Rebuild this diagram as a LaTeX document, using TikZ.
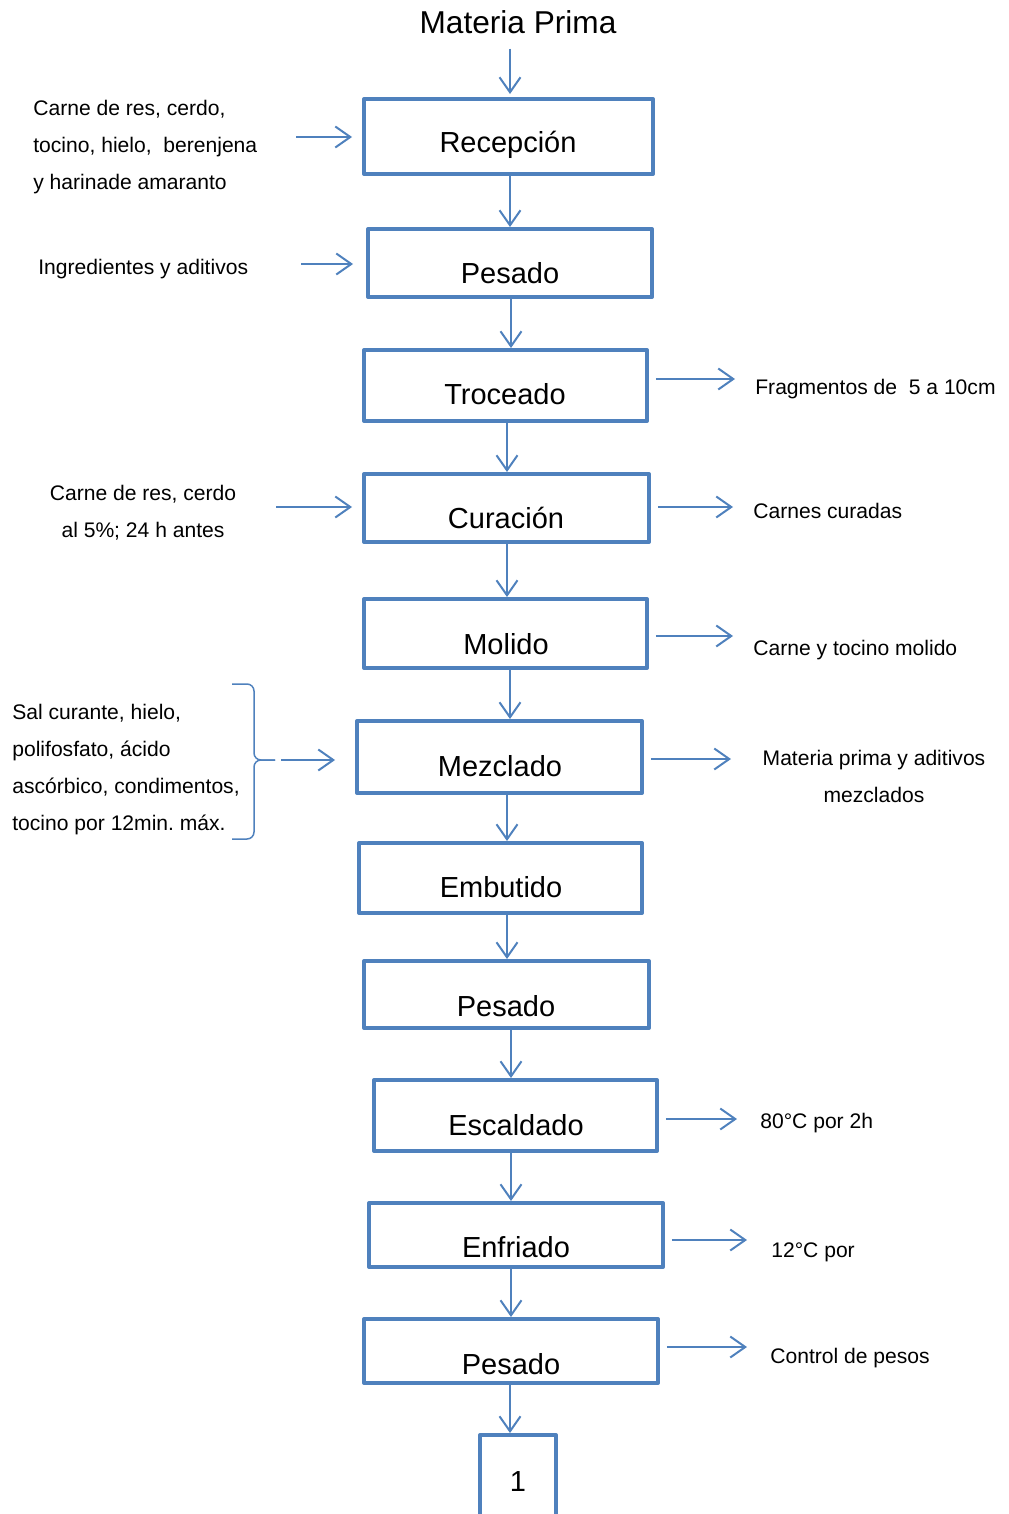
\documentclass[tikz,border=0pt]{standalone}
\usepackage{fontspec}
\setmainfont{Liberation Sans}
\usetikzlibrary{arrows.meta}
\definecolor{flowblue}{HTML}{4F81BD}
\tikzset{
  box/.style={draw=flowblue, line width=0.08cm, line join=round, inner sep=0pt},
  boxtext/.style={anchor=base, inner sep=0pt, font=\fontsize{16.5}{20}\selectfont},
  side/.style={inner sep=0pt, font=\fontsize{12}{21}\selectfont},
  arr/.style={draw=flowblue, line width=0.04cm, -{Straight Barb[length=3mm, width=4.2mm]}},
  outarr/.style={arr, shorten <=0.14cm},
  inarr/.style={arr, shorten >=0.2cm},
}
\begin{document}
\begin{tikzpicture}[x=0.02cm, y=-0.02cm]
                \clip (0,0) rectangle (1008,1514);

                % Columns of the vertical arrows
                \coordinate (colA) at (507,0);
                \coordinate (colB) at (510,0);
                \coordinate (colC) at (511,0);

                % Title
                \node[anchor=base, inner sep=0pt, font=\fontsize{18}{22}\selectfont] (prima) at (518,34) {Materia Prima};

                % Process boxes
                \node[box, minimum width=5.78cm, minimum height=1.50cm] (recep) at (508.5,136.5) {};
                \node[box, minimum width=5.68cm, minimum height=1.36cm] (pesadoA) at (510,263) {};
                \node[box, minimum width=5.66cm, minimum height=1.42cm] (troceado) at (505.5,385.5) {};
                \node[box, minimum width=5.70cm, minimum height=1.36cm] (curacion) at (506.5,508) {};
                \node[box, minimum width=5.66cm, minimum height=1.38cm] (molido) at (505.5,633.5) {};
                \node[box, minimum width=5.70cm, minimum height=1.44cm] (mezclado) at (499.5,757) {};
                \node[box, minimum width=5.66cm, minimum height=1.40cm] (embutido) at (500.5,878) {};
                \node[box, minimum width=5.70cm, minimum height=1.34cm] (pesadoB) at (506.5,994.5) {};
                \node[box, minimum width=5.66cm, minimum height=1.42cm] (escaldado) at (515.5,1115.5) {};
                \node[box, minimum width=5.88cm, minimum height=1.28cm] (enfriado) at (516,1235) {};
                \node[box, minimum width=5.88cm, minimum height=1.28cm] (pesadoC) at (511,1351) {};
                \node[box, minimum width=1.52cm, minimum height=1.80cm] (uno) at (518,1480) {};

                % Box texts
                \node[boxtext] (recepTxt) at (508,153) {Recepción};
                \node[boxtext] (pesadoATxt) at (510,283) {Pesado};
                \node[boxtext] (troceadoTxt) at (505,404) {Troceado};
                \node[boxtext] (curacionTxt) at (506,528) {Curación};
                \node[boxtext] (molidoTxt) at (506,654) {Molido};
                \node[boxtext] (mezcladoTxt) at (500,776) {Mezclado};
                \node[boxtext] (embutidoTxt) at (501,897) {Embutido};
                \node[boxtext] (pesadoBTxt) at (506,1016) {Pesado};
                \node[boxtext] (escaldadoTxt) at (516,1135) {Escaldado};
                \node[boxtext] (enfriadoTxt) at (516,1257) {Enfriado};
                \node[boxtext] (pesadoCTxt) at (511,1374) {Pesado};
                \node[boxtext] (unoTxt) at (518,1491) {1};

                % Main flow
                \draw[arr, shorten <=0.28cm, shorten >=0.06cm] (prima.south -| colB) -- (recep.north -| colB);
                \draw[arr] (recep.south -| colB) -- (pesadoA.north -| colB);
                \draw[arr] (pesadoA.south -| colC) -- (troceado.north -| colC);
                \draw[arr] (troceado.south -| colA) -- (curacion.north -| colA);
                \draw[arr] (curacion.south -| colA) -- (molido.north -| colA);
                \draw[arr] (molido.south -| colB) -- (mezclado.north -| colB);
                \draw[arr] (mezclado.south -| colA) -- (embutido.north -| colA);
                \draw[arr] (embutido.south -| colA) -- (pesadoB.north -| colA);
                \draw[arr] (pesadoB.south -| colC) -- (escaldado.north -| colC);
                \draw[arr] (escaldado.south -| colC) -- (enfriado.north -| colC);
                \draw[arr] (enfriado.south -| colC) -- (pesadoC.north -| colC);
                \draw[arr] (pesadoC.south -| colB) -- (uno.north -| colB);

                % Inputs on the left
                \node[side, anchor=north west, align=left] (carnes) at (33,100) {Carne de res, cerdo,\\tocino, hielo,~ berenjena\\y harinade amaranto};
                \node[side, anchor=base west] (ingred) at (38,274) {Ingredientes y aditivos};
                \node[side, anchor=north, align=center] (curLeft) at (143,485) {Carne de res, cerdo\\al 5\%; 24 h antes};
                \node[side, anchor=north west, align=left] (sal) at (12,704) {Sal curante, hielo,\\polifosfato, ácido\\ascórbico, condimentos,\\tocino por 12min.\ máx.};

                % Brace
                \coordinate (braceTip) at (275,760);
                \draw[flowblue, line width=0.03cm, rounded corners=0.14cm] (232,684) -| (254,760) -- (braceTip);
                \draw[flowblue, line width=0.03cm, rounded corners=0.14cm] (braceTip) -- (254,760) |- (232,839);

                \coordinate (carnesOut) at (296,137);
                \coordinate (ingredOut) at (301,264);
                \coordinate (curOut) at (276,507);
                \coordinate (mezOut) at (281,760);
                \draw[inarr] (carnesOut) -- (recep.west |- carnesOut);
                \draw[inarr, shorten >=0.26cm] (ingredOut) -- (pesadoA.west |- ingredOut);
                \draw[inarr] (curOut) -- (curacion.west |- curOut);
                \draw[inarr, shorten >=0.4cm] (mezOut) -- (mezclado.west |- mezOut);

                % Outputs on the right
                \node[side, anchor=base west] (frag) at (755,394) {Fragmentos de~ 5 a 10cm};
                \node[side, anchor=base west] (curadas) at (753,518) {Carnes curadas};
                \node[side, anchor=base west] (molidoOut) at (753,655) {Carne y tocino molido};
                \node[side, anchor=north, align=center] (mezRes) at (874,750) {Materia prima y aditivos\\mezclados};
                \node[side, anchor=base west] (temp) at (760,1128) {80°C por 2h};
                \node[side, anchor=base west] (frio) at (771,1257) {12°C por};
                \node[side, anchor=base west] (control) at (770,1363) {Control de pesos};

                \coordinate (fragIn) at (735,379);
                \coordinate (curadasIn) at (733,507);
                \coordinate (molidoIn) at (733,636);
                \coordinate (mezIn) at (731,759);
                \coordinate (tempIn) at (737,1119);
                \coordinate (frioIn) at (747,1240);
                \coordinate (controlIn) at (747,1347);
                \draw[outarr] (troceado.east |- fragIn) -- (fragIn);
                \draw[outarr] (curacion.east |- curadasIn) -- (curadasIn);
                \draw[outarr] (molido.east |- molidoIn) -- (molidoIn);
                \draw[outarr] (mezclado.east |- mezIn) -- (mezIn);
                \draw[outarr] (escaldado.east |- tempIn) -- (tempIn);
                \draw[outarr] (enfriado.east |- frioIn) -- (frioIn);
                \draw[outarr] (pesadoC.east |- controlIn) -- (controlIn);
            \end{tikzpicture}
\end{document}
